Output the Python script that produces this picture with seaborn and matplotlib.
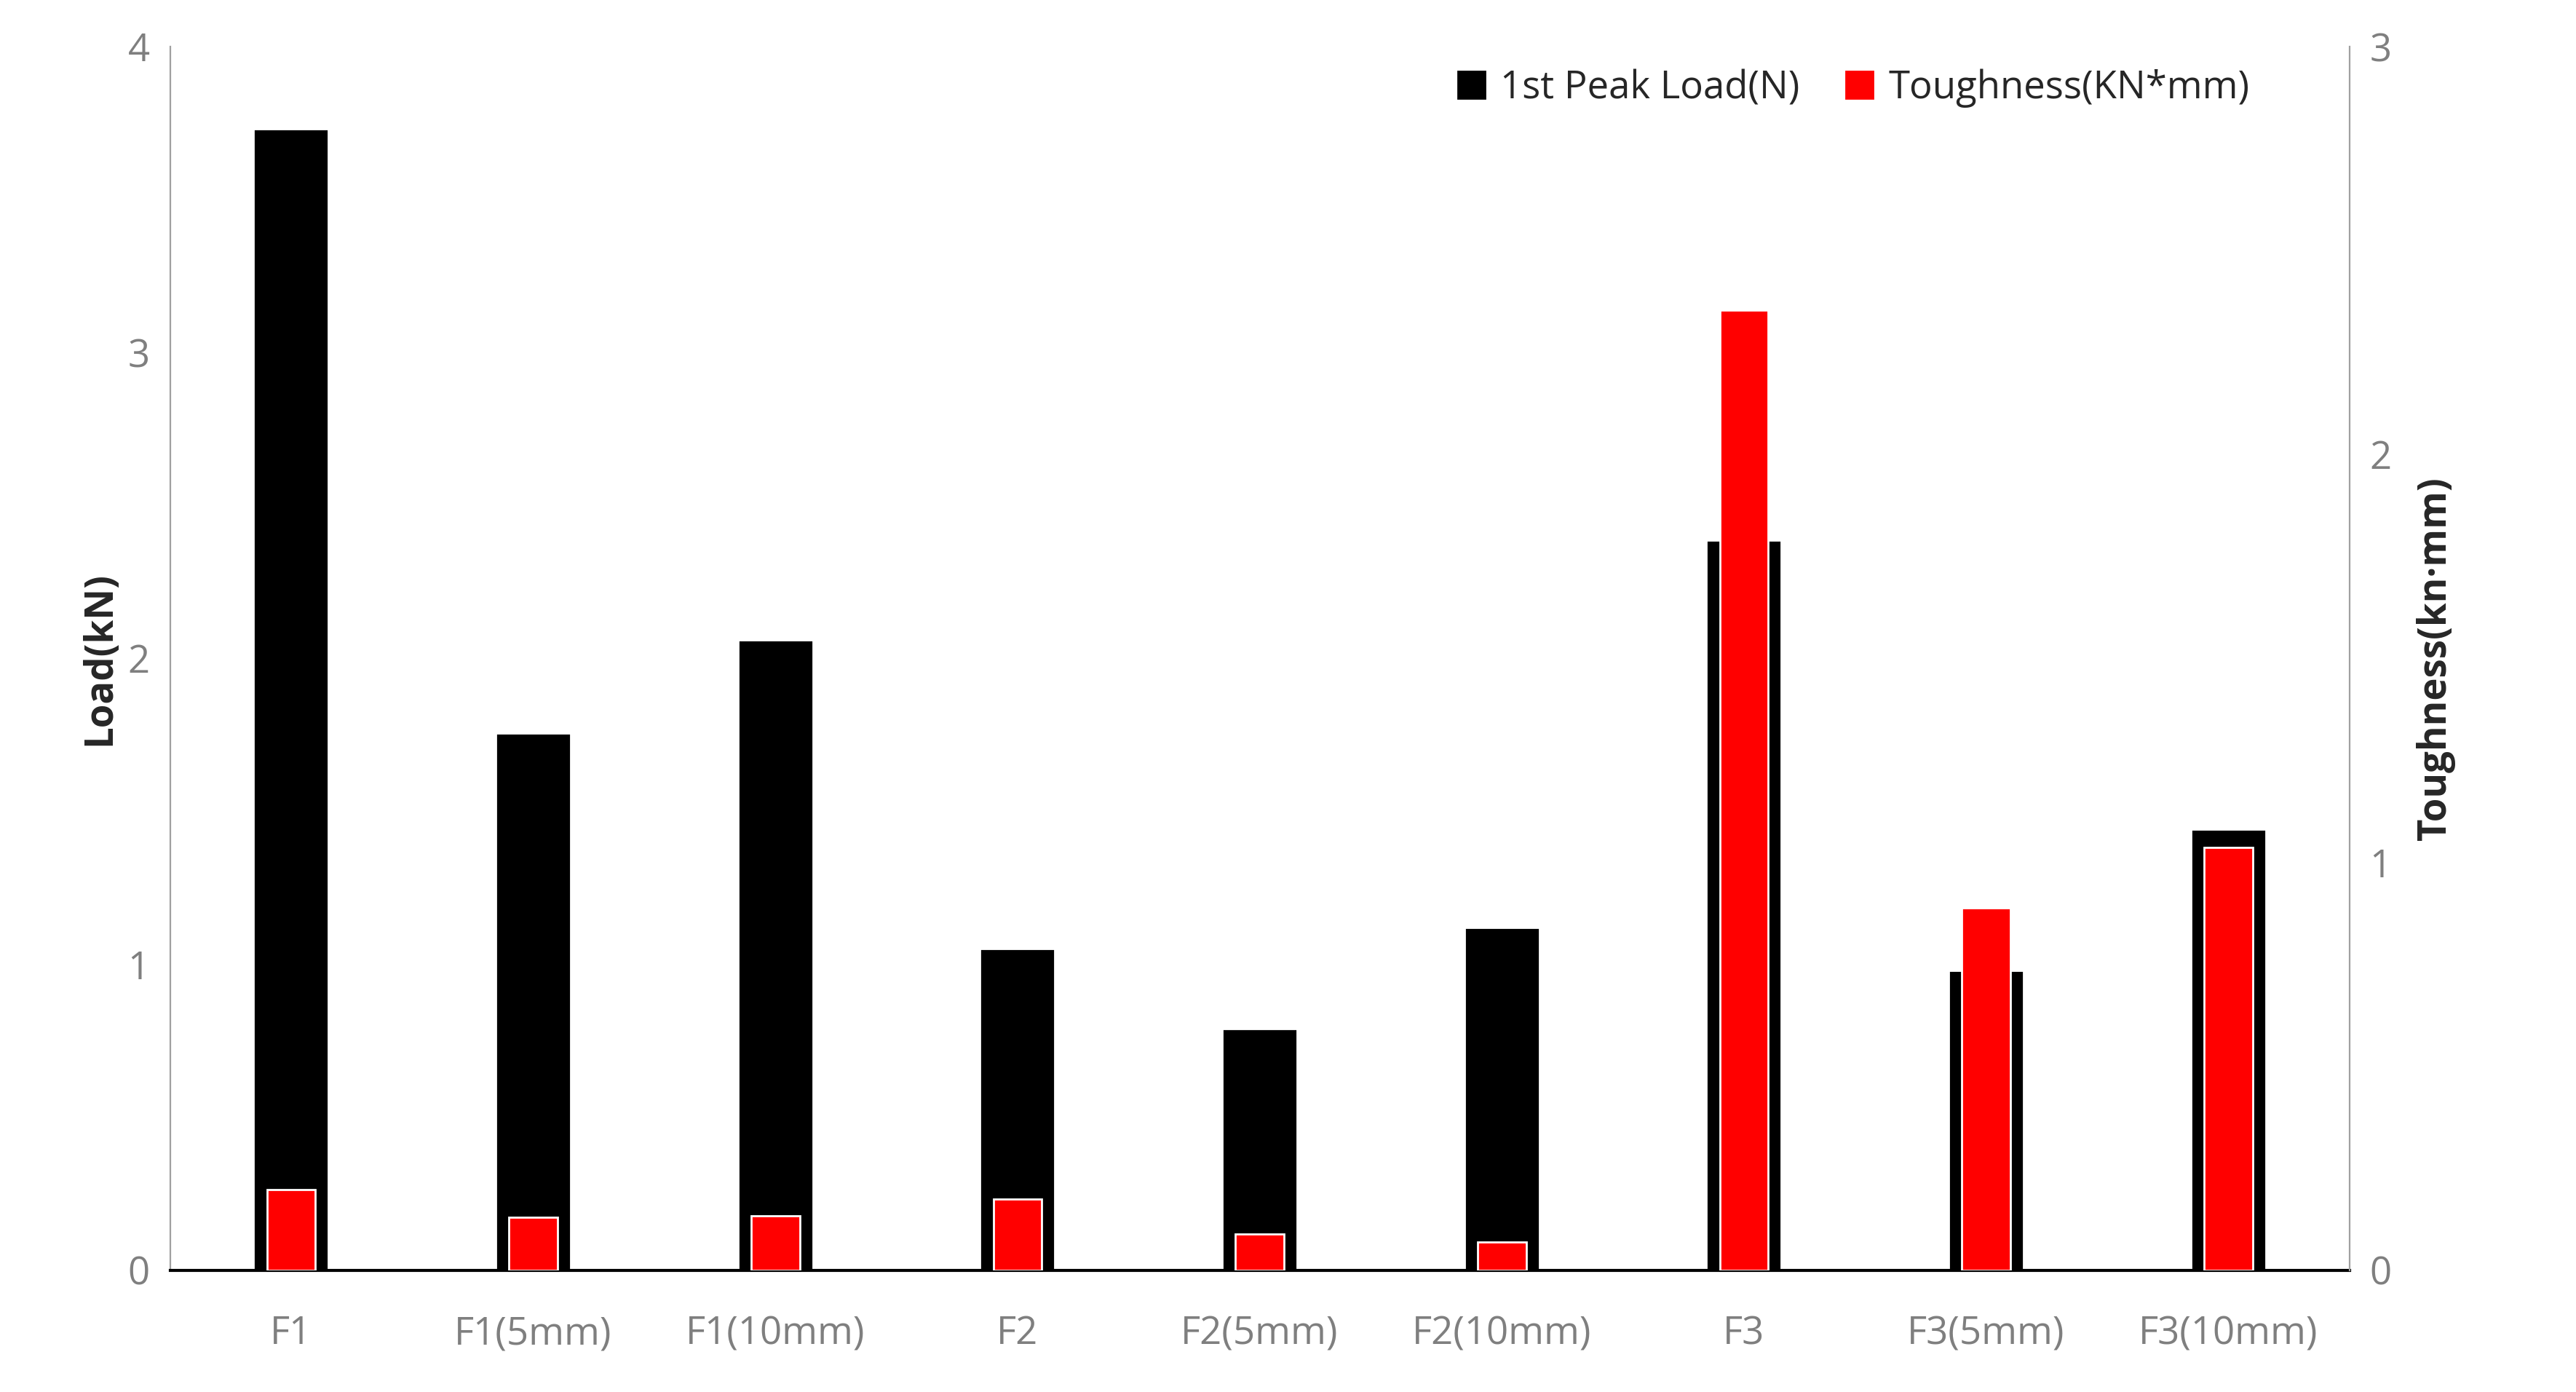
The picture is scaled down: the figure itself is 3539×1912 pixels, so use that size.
import matplotlib
matplotlib.use("Agg")
import matplotlib.pyplot as plt
import seaborn as sns
import pandas as pd
from matplotlib.patches import Patch

sns.set_style("white")
plt.rcParams['font.family'] = ['Open Sans', 'DejaVu Sans']

samples = ["F1", "F1(5mm)", "F1(10mm)", "F2", "F2(5mm)", "F2(10mm)", "F3", "F3(5mm)", "F3(10mm)"]
peak_load = [3.73, 1.755, 2.06, 1.05, 0.79, 1.12, 2.385, 0.98, 1.44]
toughness = [0.198, 0.13, 0.133, 0.174, 0.089, 0.069, 2.354, 0.888, 1.037]

df = pd.DataFrame({"sample": samples, "load": peak_load, "tough": toughness})

fig = plt.figure(figsize=(17.695, 9.56), dpi=200)
ax = fig.add_axes([0.066, 0.0876, 0.846, 0.879])
ax2 = ax.twinx()

sns.barplot(data=df, x="sample", y="load", color="black", width=0.31, ax=ax, saturation=1)
sns.barplot(data=df, x="sample", y="tough", color="#ff0000", width=0.2, ax=ax2, saturation=1)

ax.set_ylim(0, 4)
ax.set_yticks([0, 1, 2, 3, 4])
ax2.set_ylim(0, 3)
ax2.set_yticks([0, 1, 2, 3])
ax.set_xlabel("")
ax.set_ylabel("Load(kN)", fontsize=19, fontweight="bold")
ax2.set_ylabel("Toughness(kn·mm)", fontsize=19, fontweight="bold", labelpad=12)

for a in (ax, ax2):
    a.tick_params(axis="both", labelsize=19, labelcolor="#7f7f7f", length=0, pad=10)
    for s in a.spines.values():
        s.set_visible(False)
ax2.spines["right"].set_visible(True)
ax2.spines["right"].set_color("#a0a0a0")
ax.spines["left"].set_visible(True)
ax.spines["left"].set_color("#a0a0a0")
ax.spines["bottom"].set_visible(True)
ax.spines["bottom"].set_color("black")
ax.spines["bottom"].set_linewidth(1.5)
ax.tick_params(axis="x", pad=22)

handles = [Patch(color="black", label="1st Peak Load(N)"),
           Patch(color="#ff0000", label="Toughness(KN*mm)")]
ax2.legend(handles=handles, loc="upper right", ncol=2, frameon=False, fontsize=19,
           handlelength=0.7, handleheight=0.7, columnspacing=1.2, handletextpad=0.4,
           bbox_to_anchor=(0.97, 1.01))

fig.savefig("out.png", dpi=200)
